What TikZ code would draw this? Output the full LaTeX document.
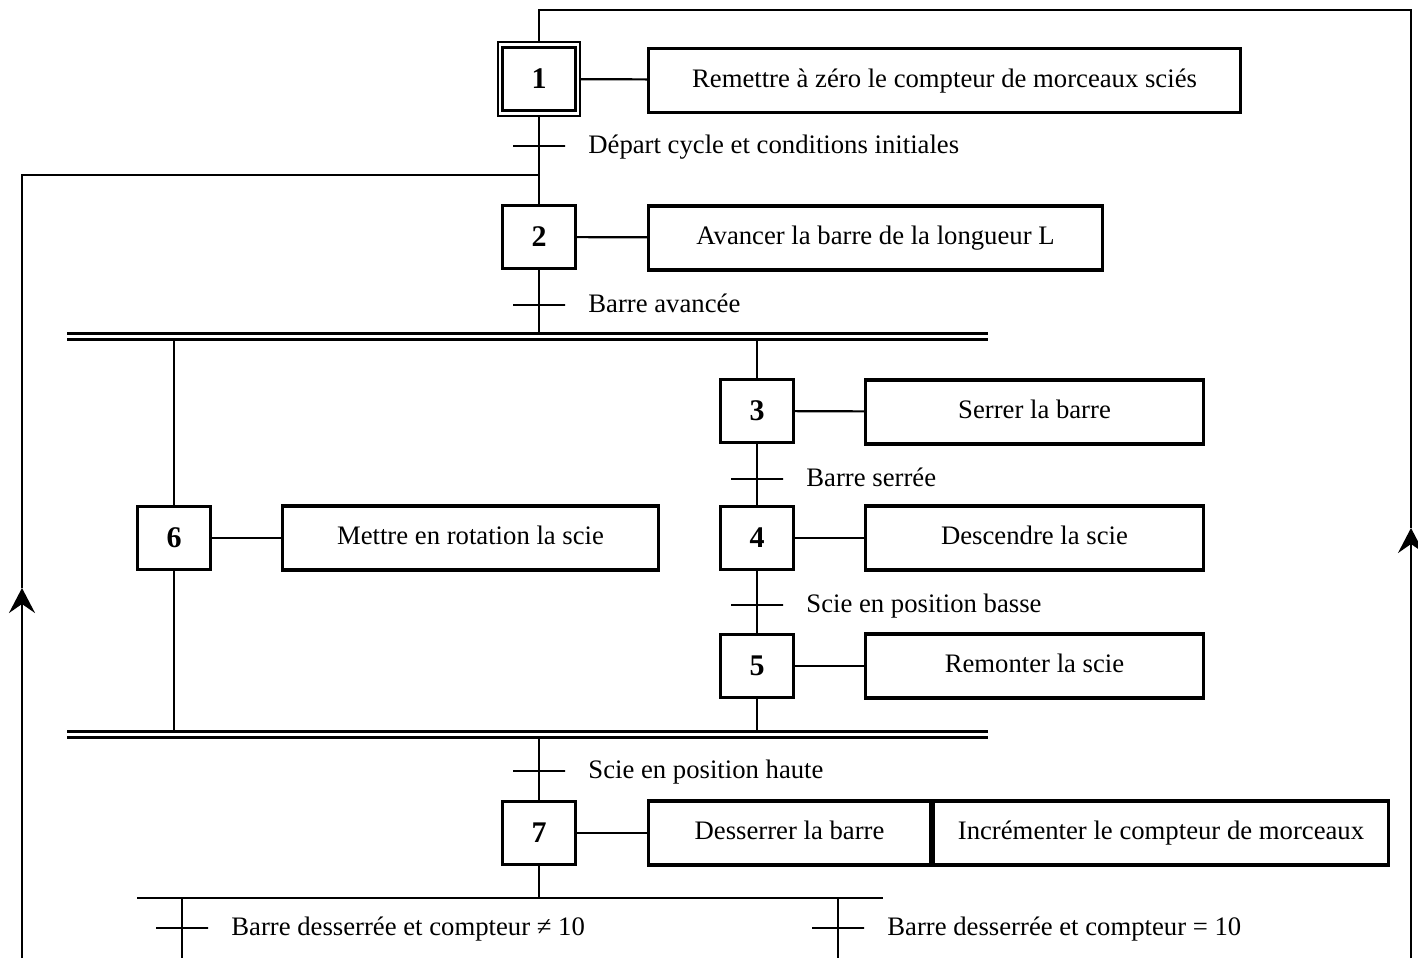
\documentclass[tikz,border=0pt]{standalone}
\usepackage{fontspec}
\setmainfont{Liberation Serif}
\usetikzlibrary{arrows.meta,positioning}

\begin{document}
\begin{tikzpicture}[
  x=1pt, y=-1pt,
  every node/.style={font=\fontsize{26.7}{30}\selectfont},
  etape/.style={draw, line width=3.2pt, minimum width=73pt, minimum height=63pt,
    inner sep=0pt, font=\fontsize{30}{34}\selectfont\bfseries},
  action/.style={draw, line width=3.2pt, minimum height=64pt, inner sep=0pt,
    text height=19pt, text depth=6pt},
  trans/.style={draw, line width=2.4pt, minimum width=52pt, minimum height=0pt,
    inner sep=0pt},
  lbl/.style={inner sep=0pt, anchor=west, text height=19pt, text depth=5pt},
  lien/.style={line width=2.2pt},
  dbl/.style={double, double distance=3pt, line width=2.6pt},
  arr/.style={-{Stealth[length=25pt, width=26pt, inset=9pt]}, line width=2.2pt}
]
\useasboundingbox (0,0) rectangle (1418,958);

% etapes
\node[etape] (e1) at (539,79) {1};
\node[draw, line width=1.6pt, minimum width=82pt, minimum height=74pt] (e1x) at (539,79) {};
\node[etape] (e2) at (539,237) {2};
\node[etape] (e3) at (757,411) {3};
\node[etape] (e4) at (757,538) {4};
\node[etape] (e5) at (757,666) {5};
\node[etape] (e6) at (174,538) {6};
\node[etape] (e7) at (539,833) {7};

% actions
\node[action, minimum width=592pt] (a1) at (944.5,80.5) {Remettre à zéro le compteur de morceaux sciés};
\node[action, minimum width=454pt] (a2) at (875.5,238) {Avancer la barre de la longueur L};
\node[action, minimum width=338pt] (a3) at (1034.5,412) {Serrer la barre};
\node[action, minimum width=338pt] (a4) at (1034.5,538) {Descendre la scie};
\node[action, minimum width=338pt] (a5) at (1034.5,666) {Remonter la scie};
\node[action, minimum width=376pt] (a6) at (470.5,538) {Mettre en rotation la scie};
\node[action, minimum width=282pt] (a7) at (789.5,833) {Desserrer la barre};
\node[action, minimum width=455pt] (a8) at (1161,833) {Incrémenter le compteur de morceaux};

% transitions
\node[trans] (t1) at (539,146) {};
\node[trans] (t2) at (539,305) {};
\node[trans] (t3) at (757,479) {};
\node[trans] (t4) at (757,605) {};
\node[trans] (t5) at (539,771) {};
\node[trans] (t6) at (182,928) {};
\node[trans] (t7) at (838,928) {};
\node[lbl, right=22pt of t1] {Départ cycle et conditions initiales};
\node[lbl, right=22pt of t2] {Barre avancée};
\node[lbl, right=22pt of t3] {Barre serrée};
\node[lbl, right=22pt of t4] {Scie en position basse};
\node[lbl, right=22pt of t5] {Scie en position haute};
\node[lbl, right=22pt of t6] {Barre desserrée et compteur ≠ 10};
\node[lbl, right=22pt of t7] {Barre desserrée et compteur = 10};

% points de passage
\coordinate (hg) at (539,10);
\coordinate (hd) at (1411,10);
\coordinate (fd) at (1411,528);
\coordinate (bd) at (1411,958);
\coordinate (jg) at (539,175);
\coordinate (cg) at (22,175);
\coordinate (fg) at (22,588);
\coordinate (bg) at (22,958);
\coordinate (p1g) at (67,336.5);
\coordinate (p1d) at (988,336.5);
\coordinate (p2g) at (67,734.5);
\coordinate (p2d) at (988,734.5);
\coordinate (sg) at (137,898);
\coordinate (sd) at (883,898);

% liaisons
\draw[lien] (e1x) -- (a1);
\draw[lien] (e2) -- (a2);
\draw[lien] (e3) -- (a3);
\draw[lien] (e4) -- (a4);
\draw[lien] (e5) -- (a5);
\draw[lien] (e6) -- (a6);
\draw[lien] (e7) -- (a7);
\draw[lien] (e1x) -- (t1) -- (e2);
\draw[lien] (e2) -- (t2) -- (t2 |- p1g);
\draw[lien] (e3 |- p1g) -- (e3) -- (t3) -- (e4) -- (t4) -- (e5) -- (e5 |- p2g);
\draw[lien] (e6 |- p1g) -- (e6) -- (e6 |- p2g);
\draw[lien] (t5 |- p2g) -- (t5) -- (e7) -- (e7 |- sg);
\draw[lien] (sg) -- (sd);
\draw[lien] (t6 |- sg) -- (t6) -- (t6 |- bg);
\draw[lien] (t7 |- sg) -- (t7) -- (t7 |- bg);
\draw[dbl] (p1g) -- (p1d);
\draw[dbl] (p2g) -- (p2d);

% retours
\draw[arr] (bd) -- (fd);
\draw[lien] (fd) -- (hd) -- (hg) -- (e1x);
\draw[arr] (bg) -- (fg);
\draw[lien] (fg) -- (cg) -- (jg);
\end{tikzpicture}
\end{document}
